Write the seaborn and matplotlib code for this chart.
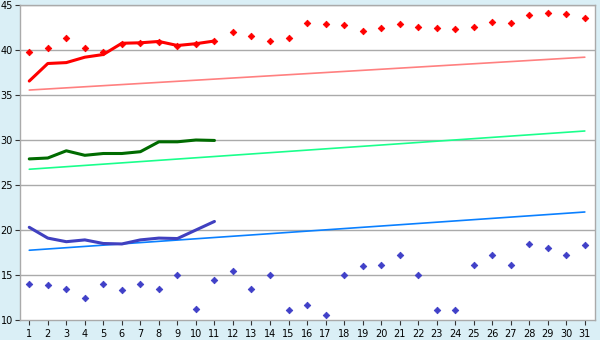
import matplotlib
matplotlib.use("Agg")
import matplotlib.pyplot as plt
import seaborn as sns
import pandas as pd

days = list(range(1, 32))
line_days = list(range(1, 12))

red_points = [39.75, 40.2, 41.3, 40.2, 39.75, 40.7, 40.8, 40.9, 40.5, 40.7, 41.0,
              42.0, 41.6, 41.0, 41.3, 43.0, 42.9, 42.8, 42.1, 42.5, 42.9, 42.6,
              42.4, 42.3, 42.6, 43.1, 43.0, 43.9, 44.1, 44.0, 43.6]
blue_points = [14.0, 13.9, 13.5, 12.5, 14.0, 13.3, 14.0, 13.4, 15.0, 11.2, 14.5,
               15.4, 13.5, 15.0, 11.1, 11.7, 10.6, 15.0, 16.0, 16.1, 17.2, 15.0,
               11.1, 11.1, 16.1, 17.2, 16.1, 18.5, 18.0, 17.2, 18.3]

red_line = [36.55, 38.5, 38.6, 39.2, 39.5, 40.75, 40.8, 40.95, 40.5, 40.7, 41.0]
green_line = [27.9, 28.0, 28.8, 28.3, 28.5, 28.5, 28.7, 29.8, 29.8, 30.0, 29.95]
blue_line = [20.3, 19.1, 18.7, 18.9, 18.5, 18.45, 18.9, 19.1, 19.05, 20.0, 20.95]

trend_days = [1, 31]
red_trend = [35.55, 39.2]
green_trend = [26.75, 31.0]
blue_trend = [17.75, 22.0]

y_ticks = [10, 15, 20, 25, 30, 35, 40, 45]

sns.set_style("white")
plt.rcParams["font.family"] = ["DejaVu Sans"]

fig = plt.figure(figsize=(6, 3.4), dpi=100, facecolor="#daeff6")
ax = fig.add_axes([20 / 600, 1 - 320 / 340, 575 / 600, 315 / 340])
ax.set_facecolor("white")

for y in y_ticks[1:]:
    ax.axhline(y, color="#aaaaaa", lw=1.0, zorder=0)

df_t = pd.DataFrame({"day": trend_days, "red": red_trend, "green": green_trend, "blue": blue_trend})
sns.lineplot(data=df_t, x="day", y="red", ax=ax, color="#ff8080", lw=1.2)
sns.lineplot(data=df_t, x="day", y="green", ax=ax, color="#1aff8c", lw=1.2)
sns.lineplot(data=df_t, x="day", y="blue", ax=ax, color="#0a80ff", lw=1.2)

df_l = pd.DataFrame({"day": line_days, "red": red_line, "green": green_line, "blue": blue_line})
sns.lineplot(data=df_l, x="day", y="red", ax=ax, color="#ff0000", lw=2.2)
sns.lineplot(data=df_l, x="day", y="green", ax=ax, color="#006b00", lw=2.2)
sns.lineplot(data=df_l, x="day", y="blue", ax=ax, color="#4040c0", lw=2.2)

df_p = pd.DataFrame({"day": days, "red": red_points, "blue": blue_points})
sns.scatterplot(data=df_p, x="day", y="red", ax=ax, color="#ff0000", marker="D", s=11, edgecolor="#ff0000", linewidth=0.6, zorder=5)
sns.scatterplot(data=df_p, x="day", y="blue", ax=ax, color="#4040c8", marker="D", s=11, edgecolor="#4040c8", linewidth=0.6, zorder=5)

ax.set_xlim(0.5, 31.55)
ax.set_ylim(10, 45)
ax.set_xticks(days)
ax.set_yticks(y_ticks)
ax.set_xlabel("")
ax.set_ylabel("")
for s in ax.spines.values():
    s.set_color("#aaaaaa")
    s.set_linewidth(1.0)
ax.tick_params(axis="both", which="both", direction="out", length=3.6, width=0.8, color="#333333",
               labelsize=7, labelcolor="black", left=True, bottom=True)
ax.tick_params(axis="x", pad=3)
ax.tick_params(axis="y", pad=1.5)

fig.savefig("out.png", dpi=100, facecolor=fig.get_facecolor())
